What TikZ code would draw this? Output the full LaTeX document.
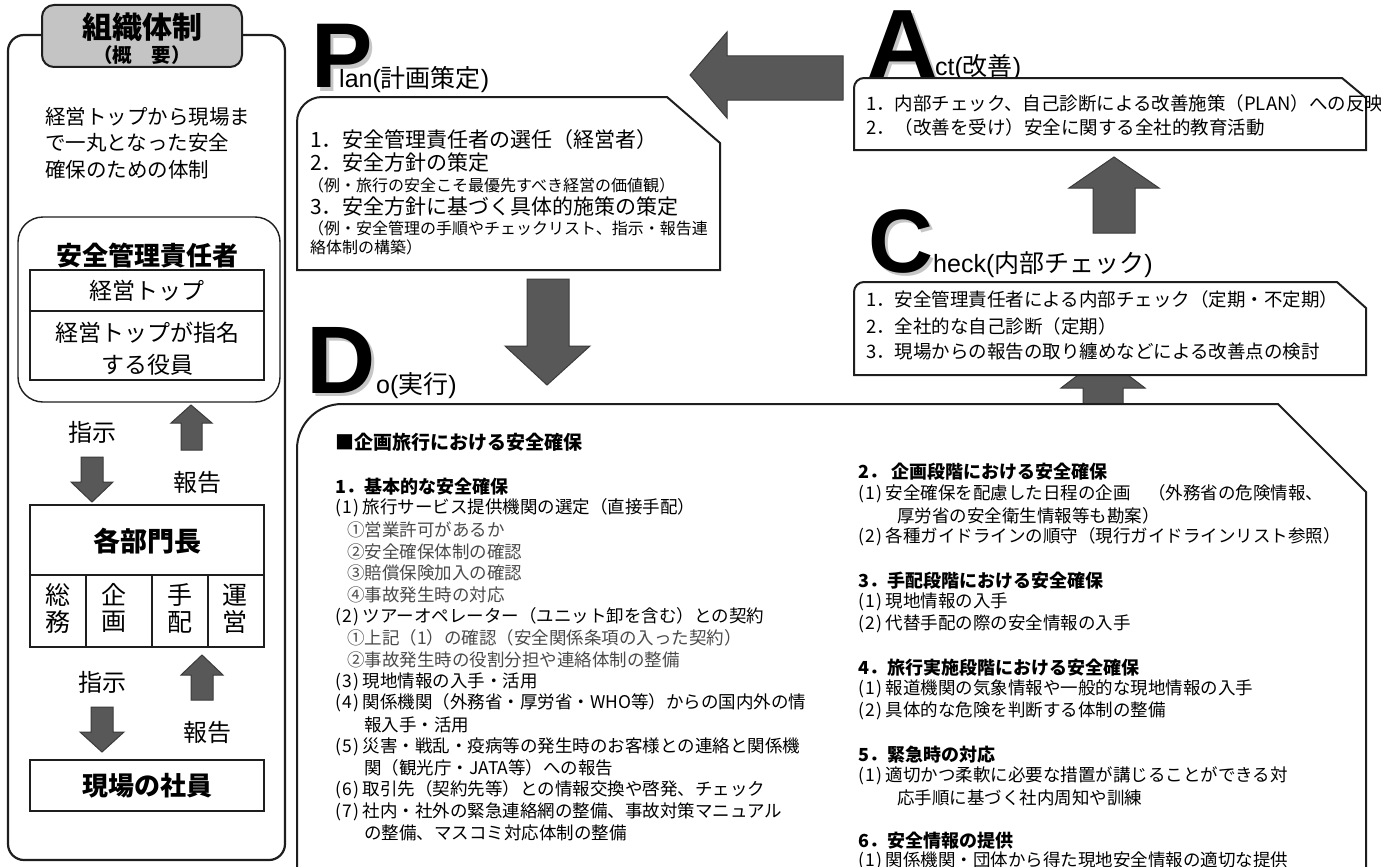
\documentclass[tikz,border=0pt]{standalone}
\usepackage{fontspec}
\setmainfont{Noto Sans CJK JP}
\newfontfamily\ar{Liberation Sans}
\newcommand\fsz[1]{\fontsize{#1}{#1}\selectfont}
\newcommand\pnum[1]{(\kern1.5pt#1\kern1.5pt)\kern3pt}
\newcommand\shadowed[1]{\rlap{\kern3pt\raisebox{-3pt}{\textcolor{gray!45}{#1}}}#1}
\definecolor{arrowfill}{HTML}{585858}
\definecolor{arrowdraw}{HTML}{3A3A3A}
\definecolor{tabfill}{HTML}{C4C4C4}
\definecolor{lineC}{HTML}{1E1E1E}
\definecolor{itemgray}{HTML}{4A4A4A}
\begin{document}
\begin{tikzpicture}[x=1pt,y=-1pt,
  panel/.style={draw=lineC, line width=2.2pt, fill=white},
  inbox/.style={draw=lineC, line width=1.4pt},
  pbox/.style={draw=lineC, line width=2pt, fill=white},
  arr/.style={fill=arrowfill, draw=arrowdraw, line width=1pt},
  tx/.style={anchor=west, inner sep=0pt, text=black},
  ctx/.style={anchor=center, inner sep=0pt, text=black},
  big/.style={anchor=base west, inner sep=0pt, font=\ar\bfseries\fsz{#1}},
  ttl/.style={anchor=base west, inner sep=0pt, font=\fsz{25}},
  plan/.style={tx, font=\fsz{21}},
  plansm/.style={tx, font=\fsz{16}},
  actt/.style={tx, font=\fsz{18.5}},
  dot/.style={tx, font=\fsz{17.5}},
  doh/.style={tx, font=\bfseries\fsz{18}},
  dog/.style={tx, font=\fsz{17.5}, text=itemgray},
]
\useasboundingbox (0,0) rectangle (1381,867);

% ---------------- left panel ----------------
\draw[panel, rounded corners=16pt] (8,35) rectangle (285,860);
\draw[draw=lineC, line width=2pt, fill=tabfill, rounded corners=12pt] (42,5) rectangle (242,67);
\node[ctx, font=\bfseries\fsz{30}] (tab1) at (142,27) {組織体制};
\node[ctx, font=\bfseries\fsz{19.5}] (tab2) at (142,55) {（概　要）};

\node[tx, font=\fsz{20.5}] (lp1) at (45,117) {経営トップから現場ま};
\node[tx, font=\fsz{20.5}] (lp2) at (45,143) {で一丸となった安全};
\node[tx, font=\fsz{20.5}] (lp3) at (45,170) {確保のための体制};

\draw[inbox, rounded corners=25pt] (18,217) rectangle (280,402);
\node[ctx, font=\bfseries\fsz{26}] (anzen) at (147,256) {安全管理責任者};
\draw[inbox] (30,270) rectangle (264,311);
\draw[inbox] (30,311) rectangle (264,380);
\node[ctx, font=\fsz{23}] (top1) at (147,291) {経営トップ};
\node[ctx, font=\fsz{23}] (top2) at (147,333) {経営トップが指名};
\node[ctx, font=\fsz{23}] (top3) at (147,365) {する役員};

\node[ctx, font=\fsz{24}] (shiji1) at (92,432) {指示};
\node[ctx, font=\fsz{24}] (hokoku1) at (197,482) {報告};
\draw[arr] (81,457) -- (103,457) -- (103,482) -- (113,482) -- (92,502) -- (71,482) -- (81,482) -- cycle;
\draw[arr] (191,405) -- (212,423) -- (202,423) -- (202,450) -- (181,450) -- (181,423) -- (171,423) -- cycle;

\draw[inbox] (30,505) rectangle (264,575);
\node[ctx, font=\bfseries\fsz{27}] (bumon) at (147,541) {各部門長};
\draw[inbox] (30,575) rectangle (264,647);
\draw[inbox] (86,575) -- (86,647);
\draw[inbox] (152,575) -- (152,647);
\draw[inbox] (208,575) -- (208,647);
\node[ctx, font=\fsz{25}] (c1a) at (58,595) {総};
\node[ctx, font=\fsz{25}] (c1b) at (58,622) {務};
\node[ctx, font=\fsz{25}] (c2a) at (114,595) {企};
\node[ctx, font=\fsz{25}] (c2b) at (114,622) {画};
\node[ctx, font=\fsz{25}] (c3a) at (180,595) {手};
\node[ctx, font=\fsz{25}] (c3b) at (180,622) {配};
\node[ctx, font=\fsz{25}] (c4a) at (235,595) {運};
\node[ctx, font=\fsz{25}] (c4b) at (235,622) {営};

\node[ctx, font=\fsz{24}] (shiji2) at (102,682) {指示};
\node[ctx, font=\fsz{24}] (hokoku2) at (207,732) {報告};
\draw[arr] (91,707) -- (113,707) -- (113,732) -- (124,732) -- (102,752) -- (80,732) -- (91,732) -- cycle;
\draw[arr] (202,655) -- (223,675) -- (213,675) -- (213,700) -- (191,700) -- (191,675) -- (181,675) -- cycle;

\draw[inbox] (30,760) rectangle (264,811);
\node[ctx, font=\bfseries\fsz{26}] (genba) at (147,786) {現場の社員};

% ---------------- arrows of the cycle ----------------
\draw[arr] (690,75) -- (727,32) -- (727,56) -- (843,56) -- (843,100) -- (727,100) -- (727,118) -- cycle;
\draw[arr] (527,279) -- (569,279) -- (569,346) -- (590,346) -- (547,385) -- (505,346) -- (527,346) -- cycle;
\draw[arr] (1114,157) -- (1159,188) -- (1135,188) -- (1135,233) -- (1093,233) -- (1093,188) -- (1069,188) -- cycle;
\draw[arr] (1103,356) -- (1145,388) -- (1123,388) -- (1123,404) -- (1083,404) -- (1083,388) -- (1061,388) -- cycle;

% ---------------- Plan ----------------
\node[big=92] (P) at (311,88) {\shadowed{P}};
\node[ttl] (plantitle) at (339,88) {{\ar lan(}計画策定{\ar )}};
\draw[pbox] (297,270) -- (297,122) .. controls (297,108.2) and (308.2,97) .. (322,97) -- (667,97) -- (720,143) -- (720,270) -- cycle;
\node[plan] (p1) at (310,140) {1．安全管理責任者の選任（経営者）};
\node[plan] (p2) at (310,163) {2．安全方針の策定};
\node[plansm] (p3) at (308,185) {（例・旅行の安全こそ最優先すべき経営の価値観）};
\node[plan] (p4) at (310,207) {3．安全方針に基づく具体的施策の策定};
\node[plansm] (p5) at (308,228) {（例・安全管理の手順やチェックリスト、指示・報告連};
\node[plansm] (p6) at (310,247) {絡体制の構築）};

% ---------------- Act ----------------
\node[big=100] (A) at (866,79) {\shadowed{A}};
\node[ttl] (acttitle) at (935,76) {{\ar ct(}改善{\ar )}};
\draw[pbox] (854,150) -- (854,88) .. controls (854,82.5) and (858.5,78) .. (864,78) -- (1342,78) -- (1366,98) -- (1366,150) -- cycle;
\node[actt] (a1) at (866,103.5) {1．内部チェック、自己診断による改善施策（PLAN）への反映};
\node[actt] (a2) at (866,127.5) {2．（改善を受け）安全に関する全社的教育活動};

% ---------------- Check ----------------
\node[big=90] (C) at (868,272) {\shadowed{C}};
\node[ttl] (checktitle) at (933,272) {{\ar heck(}内部チェック{\ar )}};
\draw[pbox] (854,375) -- (854,292) .. controls (854,286.5) and (858.5,282) .. (864,282) -- (1337,282) -- (1366,308) -- (1366,375) -- cycle;
\node[actt] (k1) at (866,299) {1．安全管理責任者による内部チェック（定期・不定期）};
\node[actt] (k2) at (866,326) {2．全社的な自己診断（定期）};
\node[actt] (k3) at (866,352) {3．現場からの報告の取り纏めなどによる改善点の検討};

% ---------------- Do ----------------
\node[big=96] (D) at (306,393) {\shadowed{D}};
\node[ttl] (dotitle) at (376,393) {{\ar o(}実行{\ar )}};
\draw[pbox] (297,880) -- (297,449) .. controls (297,424.2) and (317.2,404) .. (342,404) -- (1278,404) -- (1366,492) -- (1366,880);

\node[doh, font=\bfseries\fsz{19}] (d0) at (335,442) {■企画旅行における安全確保};
\node[doh] (d1) at (335,486.5) {1．基本的な安全確保};
\node[dot] (d2) at (335,508) {\pnum{1}旅行サービス提供機関の選定（直接手配）};
\node[dog] (d3) at (347,529.8) {①営業許可があるか};
\node[dog] (d4) at (347,551.5) {②安全確保体制の確認};
\node[dog] (d5) at (347,573) {③賠償保険加入の確認};
\node[dog] (d6) at (347,594.8) {④事故発生時の対応};
\node[dot] (d7) at (335,616.5) {\pnum{2}ツアーオペレーター（ユニット卸を含む）との契約};
\node[dog] (d8) at (347,638) {①上記（1）の確認（安全関係条項の入った契約）};
\node[dog] (d9) at (347,659.8) {②事故発生時の役割分担や連絡体制の整備};
\node[dot] (d10) at (335,681.5) {\pnum{3}現地情報の入手・活用};
\node[dot] (d11) at (335,703) {\pnum{4}関係機関（外務省・厚労省・WHO等）からの国内外の情};
\node[dot] (d12) at (364,724.8) {報入手・活用};
\node[dot] (d13) at (335,746.5) {\pnum{5}災害・戦乱・疫病等の発生時のお客様との連絡と関係機};
\node[dot] (d14) at (364,768) {関（観光庁・JATA等）への報告};
\node[dot] (d15) at (335,789.8) {\pnum{6}取引先（契約先等）との情報交換や啓発、チェック};
\node[dot] (d16) at (335,811.5) {\pnum{7}社内・社外の緊急連絡網の整備、事故対策マニュアル};
\node[dot] (d17) at (364,833) {の整備、マスコミ対応体制の整備};

\node[doh] (e1) at (858,472) {2．\kern4pt 企画段階における安全確保};
\node[dot] (e2) at (858,493.7) {\pnum{1}安全確保を配慮した日程の企画　（外務省の危険情報、};
\node[dot] (e3) at (897,515.4) {厚労省の安全衛生情報等も勘案）};
\node[dot] (e4) at (858,537.1) {\pnum{2}各種ガイドラインの順守（現行ガイドラインリスト参照）};
\node[doh] (e5) at (858,580.5) {3．手配段階における安全確保};
\node[dot] (e6) at (858,602.2) {\pnum{1}現地情報の入手};
\node[dot] (e7) at (858,623.9) {\pnum{2}代替手配の際の安全情報の入手};
\node[doh] (e8) at (858,667.3) {4．旅行実施段階における安全確保};
\node[dot] (e9) at (858,689) {\pnum{1}報道機関の気象情報や一般的な現地情報の入手};
\node[dot] (e10) at (858,710.7) {\pnum{2}具体的な危険を判断する体制の整備};
\node[doh] (e11) at (858,754.1) {5．緊急時の対応};
\node[dot] (e12) at (858,775.8) {\pnum{1}適切かつ柔軟に必要な措置が講じることができる対};
\node[dot] (e13) at (897,797.5) {応手順に基づく社内周知や訓練};
\node[doh] (e14) at (858,840.9) {6．安全情報の提供};
\node[dot] (e15) at (858,860.5) {\pnum{1}関係機関・団体から得た現地安全情報の適切な提供};
\end{tikzpicture}
\end{document}
